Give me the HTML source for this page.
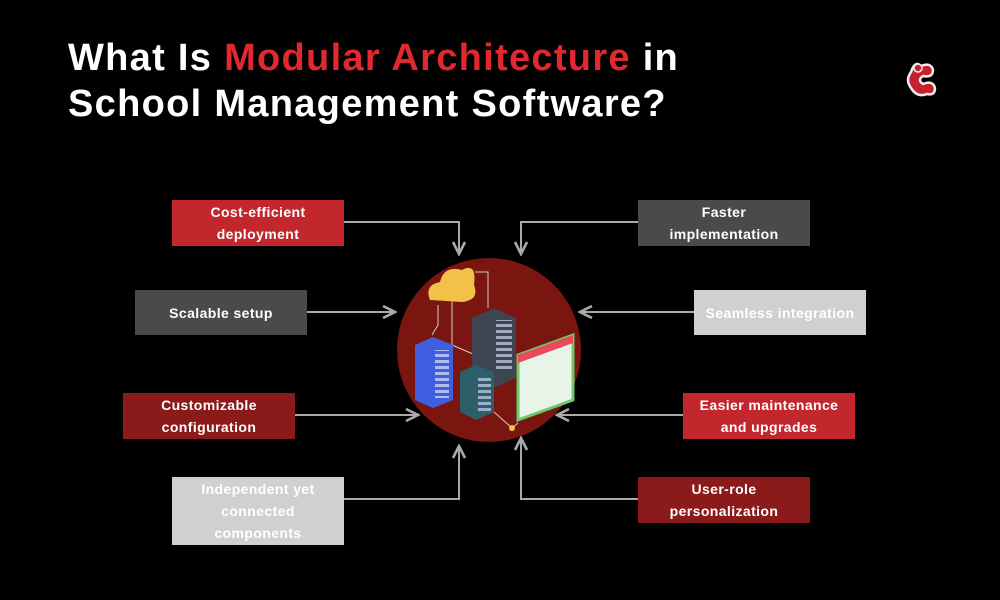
<!DOCTYPE html>
<html><head><style>
body{margin:0;width:1000px;height:600px;background:#000;overflow:hidden;position:relative;font-family:"Liberation Sans",sans-serif}
.t{position:absolute;left:68px;color:#fff;font-weight:bold;font-size:38px;line-height:46px;top:35px;letter-spacing:1.3px}
.t span{color:#e0282e}
.b{position:absolute;width:172px;display:flex;align-items:center;justify-content:center;text-align:center;color:#fff;font-weight:bold;font-size:14px;line-height:22px;letter-spacing:0.4px}
</style></head><body>
<div class="t">What Is <span>Modular Architecture</span> in<br>School Management Software?</div>
<svg style="position:absolute;left:0;top:0" width="1000" height="600">
<defs><marker id="a" markerWidth="8" markerHeight="8" refX="7" refY="4" orient="auto"><path d="M1,1 L7,4 L1,7" fill="none" stroke="#aaa" stroke-width="1.3"/></marker>
<pattern id="s" width="6" height="6" patternUnits="userSpaceOnUse"><rect width="6" height="3" fill="#c8d4f0"/></pattern></defs>
<circle cx="489" cy="350" r="92" fill="#7a1510"/>
<g fill="none" stroke="#aaa" stroke-width="2" marker-end="url(#a)">
<path d="M344 222H459V254"/><path d="M638 222H521V254"/>
<path d="M306 312H395"/><path d="M694 312H580"/>
<path d="M295 415H418"/><path d="M683 415H557"/>
<path d="M344 499H459V446"/><path d="M638 499H521V438"/>
</g>
<g>
<path d="M475 272H488V308M438 305v20l-6 10M452 300v45l35 15v10" stroke="#ccc" fill="none"/>
<path d="M430 300 Q424 285 440 282 Q444 265 462 270 Q477 262 474 285 Q480 300 462 302 Z" fill="#f3c04a"/>
<path d="M472 318l22-10 22 10v60l-22 10-22-10z" fill="#3e4450"/>
<rect x="496" y="320" width="16" height="50" fill="url(#s)" opacity="0.7"/>
<path d="M415 345l18-8 20 8v55l-20 8-18-8z" fill="#3f5fe0"/>
<rect x="435" y="350" width="14" height="48" fill="url(#s)" opacity="0.8"/>
<path d="M460 372l16-7 18 7v40l-18 8-16-8z" fill="#2c5f6a"/>
<rect x="478" y="377" width="13" height="34" fill="url(#s)" opacity="0.7"/>
<path d="M518 355l55-20v65l-55 20z" fill="#e8f4e8" stroke="#6bc96b" stroke-width="3"/>
<path d="M518 355l55-20v8l-55 20z" fill="#e84a5a"/>
<path d="M494 412l18 16 6-5" stroke="#ccc" fill="none"/>
<circle cx="512" cy="428" r="3" fill="#f3c04a"/>
</g>
<g>
<path d="M911 72 q-6 8 0 16 q6 10 16 6 q8 2 8-6 q-2-8-12-4 q-6-4 0-8 q10 2 10-6 q-2-8-12-4 q-6-6-10 6z" fill="#c8202c" stroke="#eee" stroke-width="2.5"/>
<circle cx="918" cy="68" r="4" fill="#c8202c" stroke="#eee" stroke-width="1.5"/>
</g>
</svg>
<div class="b" style="left:172px;top:200px;height:46px;background:#c1272d">Cost-efficient<br>deployment</div>
<div class="b" style="left:638px;top:200px;height:46px;background:#4a4a4a">Faster<br>implementation</div>
<div class="b" style="left:135px;top:290px;height:45px;background:#4a4a4a">Scalable setup</div>
<div class="b" style="left:694px;top:290px;height:45px;background:#d0d0d0">Seamless integration</div>
<div class="b" style="left:123px;top:393px;height:46px;background:#8b1a1a">Customizable<br>configuration</div>
<div class="b" style="left:683px;top:393px;height:46px;background:#c1272d">Easier maintenance<br>and upgrades</div>
<div class="b" style="left:172px;top:477px;height:68px;background:#d0d0d0">Independent yet<br>connected<br>components</div>
<div class="b" style="left:638px;top:477px;height:46px;background:#8b1a1a">User-role<br>personalization</div>
</body></html>
